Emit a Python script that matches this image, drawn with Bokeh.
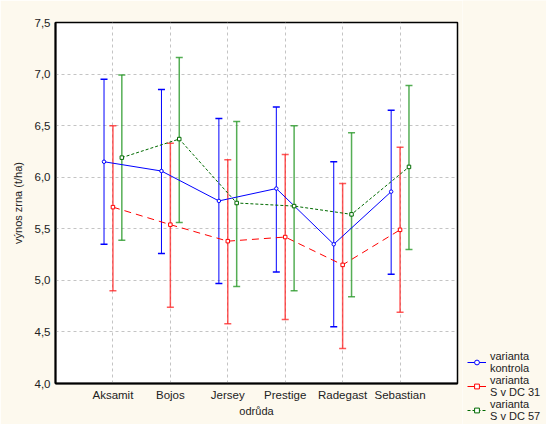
from bokeh.plotting import figure
from bokeh.layouts import row
from bokeh.models import (ColumnDataSource, Whisker, TeeHead, FixedTicker, Legend,
                          LegendItem, CustomJSTickFormatter, Range1d)
from bokeh.embed import file_html
from bokeh.resources import INLINE

varieties = ["Aksamit", "Bojos", "Jersey", "Prestige", "Radegast", "Sebastian"]
series_labels = ["varianta\nkontrola", "varianta\nS v DC 31", "varianta\nS v DC 57"]

kontrola_mean = [6.15, 6.06, 5.77, 5.89, 5.35, 5.86]
kontrola_low = [5.35, 5.26, 4.97, 5.08, 4.55, 5.06]
kontrola_high = [6.95, 6.85, 6.57, 6.68, 6.15, 6.65]

dc31_mean = [5.71, 5.54, 5.38, 5.42, 5.15, 5.49]
dc31_low = [4.90, 4.74, 4.58, 4.62, 4.34, 4.69]
dc31_high = [6.50, 6.33, 6.17, 6.22, 5.94, 6.29]

dc57_mean = [6.19, 6.37, 5.75, 5.72, 5.64, 6.10]
dc57_low = [5.39, 5.56, 4.94, 4.90, 4.84, 5.30]
dc57_high = [6.99, 7.16, 6.54, 6.50, 6.43, 6.89]

y_ticks = [4.0, 4.5, 5.0, 5.5, 6.0, 6.5, 7.0, 7.5]

FONT = "Liberation Sans"
CREAM = "#fdf9ee"
TEXT = "#222222"

p = figure(width=462, height=424, output_backend="svg", toolbar_location=None,
           x_range=Range1d(0, 7), y_range=Range1d(4.0, 7.5),
           min_border_left=55, min_border_right=5, min_border_top=22, min_border_bottom=41)
p.border_fill_color = CREAM
p.background_fill_color = "white"
p.outline_line_color = "black"
p.outline_line_width = 1.5
p.frame_align = False

# legend-only figure: its renderers hold a single off-screen dummy point
lf = figure(width=84, height=424, output_backend="svg", toolbar_location=None,
            x_range=Range1d(0, 1), y_range=Range1d(0, 1),
            x_axis_location=None, y_axis_location=None,
            min_border_left=0, min_border_right=0, min_border_top=0, min_border_bottom=0)
lf.grid.visible = False
lf.border_fill_color = CREAM
lf.background_fill_color = CREAM
lf.outline_line_color = None
lf.frame_align = False
dummy = ColumnDataSource(dict(x=[-5.0], y=[-5.0]))

positions = list(range(1, len(varieties) + 1))
series = [
    (kontrola_mean, kontrola_low, kontrola_high, -0.155, "#0000ff", "#0000ff", "solid", "circle", 1.0, 1.0),
    (dc31_mean, dc31_low, dc31_high, 0.0, "#ff0000", "#ff2020", "7 5", "square", 0.75, 1.5),
    (dc57_mean, dc57_low, dc57_high, 0.155, "#006a00", "#2a9a2a", "3 2", "square", 0.8, 1.5),
]

items = []
for (mean, low, high, off, lcol, wcol, dash, marker, walpha, wwidth), lab in zip(series, series_labels):
    xs = [x + off for x in positions]
    src = ColumnDataSource(dict(x=xs, mean=mean, low=low, high=high))
    w = Whisker(base="x", upper="high", lower="low", source=src,
                line_color=wcol, line_width=wwidth, line_alpha=walpha,
                upper_head=TeeHead(size=7, line_color=wcol, line_width=1.5, line_alpha=walpha),
                lower_head=TeeHead(size=7, line_color=wcol, line_width=1.5, line_alpha=walpha))
    p.add_layout(w)
    p.line("x", "mean", source=src, line_color=lcol, line_width=1, line_dash=dash)
    p.scatter("x", "mean", source=src, marker=marker, size=3.5, line_color=lcol,
              fill_color="white", line_width=1)
    # legend glyphs
    l1 = lf.line("x", "y", source=dummy, line_color=lcol, line_width=1, line_dash=dash)
    l3 = lf.scatter("x", "y", source=dummy, marker=marker, size=3.5, line_color=lcol,
                    fill_color="white", line_width=1)
    items.append(LegendItem(label=lab, renderers=[l1, l3]))

# axes
p.xaxis.ticker = FixedTicker(ticks=positions)
p.xaxis.major_label_overrides = {i: v for i, v in zip(positions, varieties)}
p.yaxis.ticker = FixedTicker(ticks=y_ticks)
p.yaxis.formatter = CustomJSTickFormatter(code="return tick.toFixed(1).replace('.', ',');")

for ax in (p.xaxis[0], p.yaxis[0]):
    ax.major_label_text_font = FONT
    ax.major_label_text_font_size = "11.5px"
    ax.major_label_text_color = TEXT
    ax.axis_label_text_font = FONT
    ax.axis_label_text_font_size = "11px"
    ax.axis_label_text_font_style = "normal"
    ax.axis_label_text_color = TEXT
    ax.axis_line_color = "black"
    ax.axis_line_width = 2
    ax.major_tick_in = 0
    ax.major_tick_out = 0
    ax.minor_tick_line_color = None
    ax.major_label_standoff = 5

p.xaxis.axis_label = "odrůda"
p.xaxis.axis_label_standoff = 1
p.yaxis.axis_label = "výnos zrna (t/ha)"
p.yaxis.axis_label_standoff = 8

p.grid.grid_line_color = "#c4c4c4"
p.grid.grid_line_dash = "3 3"
p.grid.grid_line_width = 1

legend = Legend(items=items, location=(5, 2), orientation="vertical",
                padding=0, margin=0, spacing=0, border_line_color=None,
                background_fill_alpha=0, glyph_width=19, glyph_height=12,
                label_text_font=FONT, label_text_font_size="11px",
                label_text_color=TEXT, label_standoff=4, label_height=12)
lf.add_layout(legend, "center")

layout = row(p, lf, spacing=0)
open("out.html", "w").write(file_html(layout, INLINE))
